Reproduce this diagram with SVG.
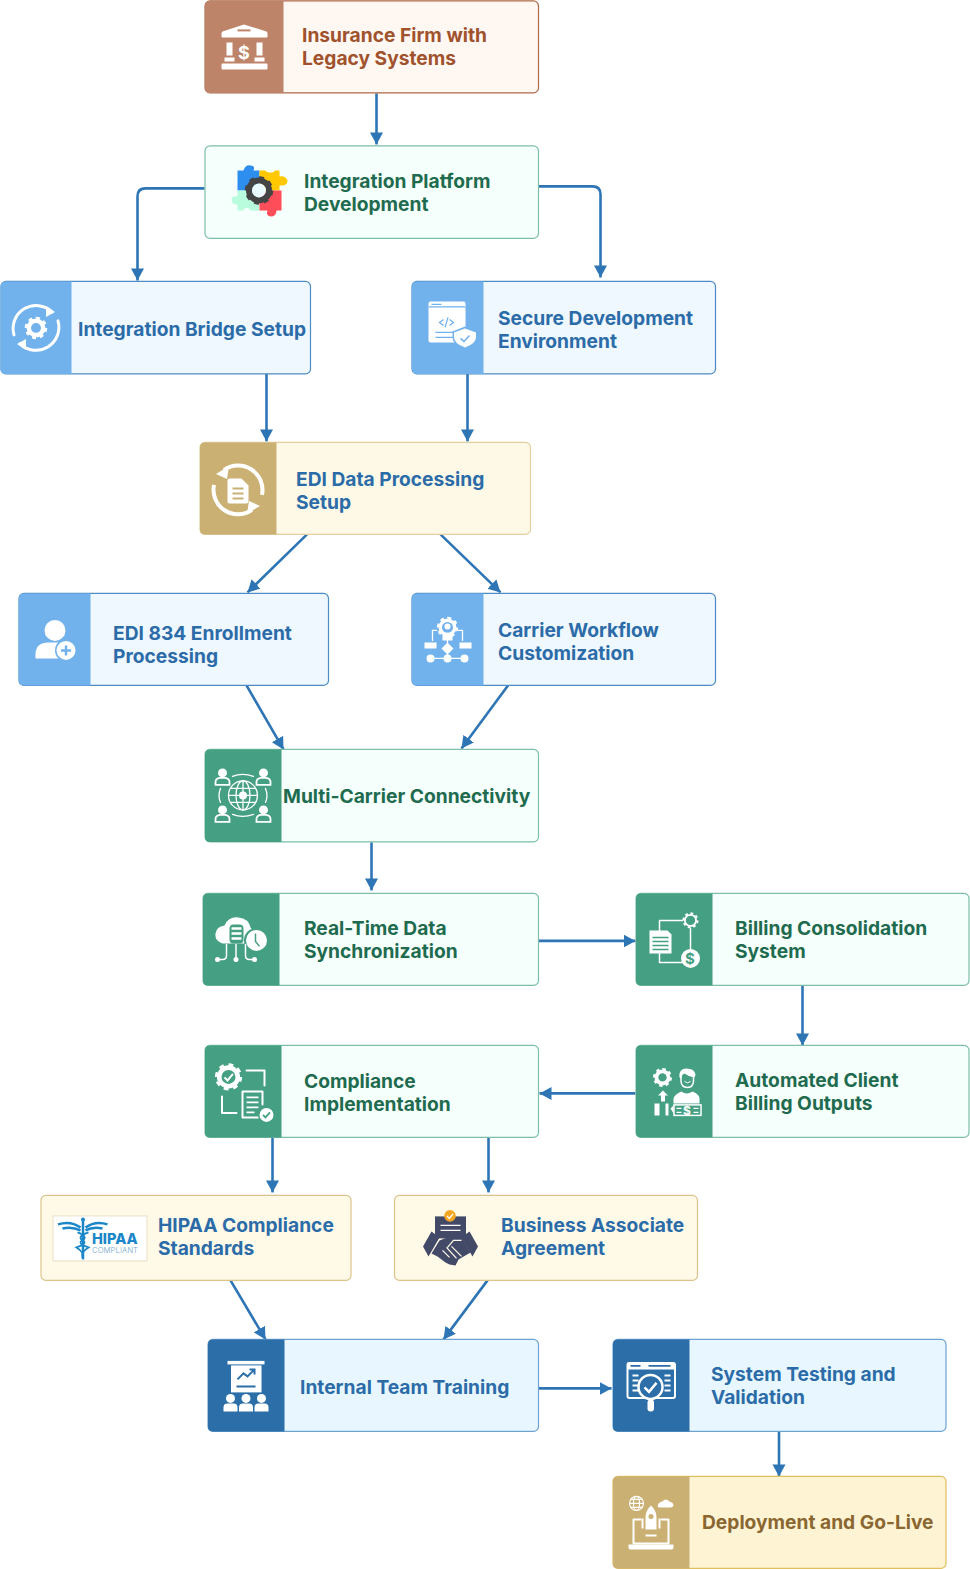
<svg xmlns="http://www.w3.org/2000/svg" width="970" height="1569" viewBox="0 0 970 1569">
<style>
text{font-family:"Inter","Liberation Sans",sans-serif;font-weight:700;font-size:19.200px;transform:translateX(-.5px)}
.box{stroke-width:1.200}
.rust{fill:#fff7f2;stroke:#ad6a48}
.mint{fill:#f5fffb;stroke:#7dbfa8}
.sky{fill:#eff7ff;stroke:#4e8cc4}
.cream{fill:#fef9e7;stroke:#e2cf9f}
.gold{fill:#fff9e8;stroke:#dcc38c}
.ice{fill:#e8f7ff;stroke:#6da2d2}
.sand{fill:#fef4d4;stroke:#e0bf5e}
.tb{fill:#2b6ca8}.tg{fill:#1f6b4f}.tr{fill:#a0522d}.tm{fill:#8a6631}
.w{fill:#fff}.wl{fill:none;stroke:#fff;stroke-width:2;stroke-linecap:round;stroke-linejoin:round}
.c{fill:none;stroke:#2e75b6;stroke-width:2.600;marker-end:url(#a)}
</style>
<defs>
<marker id="a" markerUnits="userSpaceOnUse" markerWidth="14" markerHeight="14" refX="12" refY="7" orient="auto"><path d="M0 0.500L12 7L0 13.500z" fill="#2e75b6"/></marker>
<g id="gear"><circle r="8" fill="none" stroke="#fff" stroke-width="5"/><circle r="11" fill="none" stroke="#fff" stroke-width="3" pathLength="16" stroke-dasharray="1 1"/></g>
<g id="pers"><circle cy="-5" r="4.500" class="w"/><path d="M-7 8V4Q-7 0-3 0H3Q7 0 7 4V8z" class="w"/></g>
<g id="persl"><circle cy="-6" r="4.500" class="w"/><path d="M-7 6V3Q-7 0-3-1H3Q7 0 7 3V6z" fill="none" stroke="#fff" stroke-width="1.800"/></g>
</defs>
<g transform="translate(.5 .4)">
<g id="connectors">
<path class="c" d="M376 93V144"/>
<path class="c" d="M204 188H145Q137 188 137 196V280"/>
<path class="c" d="M538 186H592Q600 186 600 194V277"/>
<path class="c" d="M266 373V441"/>
<path class="c" d="M467 373V441"/>
<path class="c" d="M306.500 534L247 592"/>
<path class="c" d="M440 534L500 592"/>
<path class="c" d="M246 685L283 749"/>
<path class="c" d="M507.500 685L461 748"/>
<path class="c" d="M371 842V890"/>
<path class="c" d="M538 940.500H635"/>
<path class="c" d="M802 985V1045"/>
<path class="c" d="M635 1093H539"/>
<path class="c" d="M272 1137V1192"/>
<path class="c" d="M488 1137V1192"/>
<path class="c" d="M230 1280L265 1339"/>
<path class="c" d="M487 1280L443 1339"/>
<path class="c" d="M538 1388H611"/>
<path class="c" d="M778.500 1431V1476"/>
</g>

<g id="n1">
<rect class="box rust" x="204.500" y="0.500" width="333.500" height="92" rx="5"/>
<path d="M209.500 0.500H283V92.500H209.500Q204.500 92.500 204.500 87.500V5.500Q204.500 0.500 209.500 0.500z" fill="#be8469"/>
<path class="w" d="M243.500 24L266 31Q267 32 267 33V36Q267 37 266 37H222Q221 37 221 36V33Q221 32 222 31z"/><rect x="237" y="29" width="13" height="2" fill="#be8469"/>
<path class="w" d="M226 42H232V55H226zM256 42H262V55H256zM224 57H234V61H224zM254 57H264V61H254zM222 63H266Q267 63 267 64V68Q267 69 266 69H222Q221 69 221 68V64Q221 63 222 63z"/>
<text x="244" y="58.500" style="font-size:18px;fill:#fff" text-anchor="middle">$</text>
<text class="tr" x="302" y="42">Insurance Firm with</text><text class="tr" x="302" y="65">Legacy Systems</text>
</g>

<g id="n2">
<rect class="box mint" x="204.500" y="145.500" width="333.500" height="92.500" rx="5"/>
<path fill="#2e8ef0" d="M237 170H243Q245 164 250 165Q255 165 253 170H259V190H237z"/>
<path fill="#ffc800" d="M259 170H265Q266 172 270 172Q274 172 274 170H279V176Q285 175 287 180Q287 186 279 185V190H259z"/>
<path fill="#b9fbdd" d="M237 190H259V210H250Q248 206 244 208L242 210H237V204Q231 204 231 199Q232 195 237 196z"/>
<path fill="#ff4d5a" d="M259 190H281V210H276Q276 216 270 216Q265 215 267 210H259z"/>
<circle cx="258.500" cy="190" r="10" fill="none" stroke="#444" stroke-width="6"/>
<circle cx="258.500" cy="190" r="13" fill="none" stroke="#444" stroke-width="2.500" pathLength="16" stroke-dasharray="1 1"/>
<circle cx="258.500" cy="190" r="7" fill="#eafaff"/>
<text class="tg" x="304" y="188">Integration Platform</text><text class="tg" x="304" y="211">Development</text>
</g>

<g id="n3">
<rect class="box sky" x="0.500" y="281" width="309.500" height="92.500" rx="5"/>
<path d="M5 281H71V373.500H5Q0 373.500 0 368.500V286Q0 281 5 281z" fill="#72b2ec"/>
<g transform="translate(35.500 327.500)">
<path class="wl" style="stroke-width:3" d="M16-16A23 23 0 0 0-22 7M-16 16A23 23 0 0 0 22-7"/>
<path class="w" d="M10-22L19-16L10-11zM-10 11L-19 16L-10 22z"/>
<g transform="scale(.9)"><use href="#gear"/></g>
</g>
<text class="tb" x="78" y="336">Integration Bridge Setup</text>
</g>

<g id="n4">
<rect class="box sky" x="411.500" y="281" width="303.500" height="92.500" rx="5"/>
<path d="M416.500 281H483V373.500H416.500Q411.500 373.500 411.500 368.500V286Q411.500 281 416.500 281z" fill="#72b2ec"/>
<rect class="w" x="428" y="301" width="37" height="41" rx="2"/>
<path d="M428 306.500H465M431 304H441M443 319L439 322L443 325M449 319L453 322L449 325M447.500 317L444.500 327M435 332H454M435 337H454" fill="none" stroke="#72b2ec" stroke-width="1.300"/>
<path d="M464.500 326L477 331V337Q477 344 464.500 349Q452 344 452 337V331z" fill="#72b2ec"/>
<path d="M464.500 328L475.500 332V337Q475.500 343 464.500 347Q453.500 343 453.500 337V332z" class="w"/>
<path d="M460 338L463.500 341L469 335" fill="none" stroke="#72b2ec" stroke-width="1.500"/>
<text class="tb" x="498" y="325">Secure Development</text><text class="tb" x="498" y="348">Environment</text>
</g>

<g id="n5">
<rect class="box cream" x="199.500" y="442" width="330.500" height="92" rx="5"/>
<path d="M204.500 442H276V534H204.500Q199.500 534 199.500 529V447Q199.500 442 204.500 442z" fill="#cbb074"/>
<g transform="translate(237.500 489.500)">
<path fill="none" stroke="#fff" stroke-width="4" d="M-14-20A24.500 24.500 0 0 1 24 5M14 20A24.500 24.500 0 0 1-24-5"/>
<path class="w" d="M-22-16L-9-24L-11-11zM22 16L9 24L11 11z"/>
</g>
<path class="w" d="M229 478H241L248 485V501Q248 503 246 503H229Q227 503 227 501V480Q227 478 229 478z"/>
<path d="M232 488H243M232 493H243M232 498H243" stroke="#cbb074" stroke-width="2"/>
<text class="tb" x="296" y="486">EDI Data Processing</text><text class="tb" x="296" y="509">Setup</text>
</g>

<g id="n6">
<rect class="box sky" x="18.500" y="593" width="309.500" height="92" rx="5"/>
<path d="M23.500 593H90V685H23.500Q18.500 685 18.500 680V598Q18.500 593 23.500 593z" fill="#72b2ec"/>
<circle class="w" cx="54.500" cy="630" r="10.500"/>
<path class="w" d="M35 658V654Q35 642 48 642H62V658z"/>
<circle cx="65.500" cy="650" r="11" fill="#72b2ec"/><circle class="w" cx="65.500" cy="650" r="9.500"/>
<path d="M60.500 650H70.500M65.500 645V655" stroke="#72b2ec" stroke-width="2.500"/>
<text class="tb" x="113" y="640">EDI 834 Enrollment</text><text class="tb" x="113" y="663">Processing</text>
</g>

<g id="n7">
<rect class="box sky" x="411.500" y="593" width="303.500" height="92" rx="5"/>
<path d="M416.500 593H483V685H416.500Q411.500 685 411.500 680V598Q411.500 593 416.500 593z" fill="#72b2ec"/>
<g transform="translate(447 627) scale(.85)"><use href="#gear"/></g>
<circle cx="447" cy="627" r="5.500" fill="#72b2ec"/><circle class="w" cx="447" cy="626" r="3"/>
<path class="w" d="M442 640V634Q447 630 452 634V640z"/>
<path class="wl" style="stroke-width:1.300" d="M432 640V630H436M462 640V630H458M447 640V657M430 658H464"/>
<path class="w" d="M424 642H436V648H424zM459 642H471V648H459zM447 642L453 648L447 654L441 648z"/>
<circle class="w" cx="430" cy="658" r="4"/><circle class="w" cx="447" cy="658" r="4"/><circle class="w" cx="464" cy="658" r="4"/>
<text class="tb" x="498" y="637">Carrier Workflow</text><text class="tb" x="498" y="660">Customization</text>
</g>

<g id="n8">
<rect class="box mint" x="204.500" y="749" width="333.500" height="92.500" rx="5"/>
<path d="M209.500 749H281V841.500H209.500Q204.500 841.500 204.500 836.500V754Q204.500 749 209.500 749z" fill="#459f82"/>
<g class="wl" style="stroke-width:1.300"><circle cx="242.500" cy="795" r="14.500"/><ellipse cx="242.500" cy="795" rx="7" ry="14.500"/><path d="M228 795H257M230 788H255M230 802H255M242.500 780.500V810"/>
<path d="M232 776Q242 772 253 776M232 814Q242 818 253 814M220 788Q217 795 220 802M265 788Q268 795 265 802"/></g>
<circle class="w" cx="242.500" cy="795" r="4"/>
<use href="#persl" x="222" y="778.500"/><use href="#persl" x="263" y="778.500"/><use href="#persl" x="222" y="815.500"/><use href="#persl" x="263" y="815.500"/>
<text class="tg" x="283" y="803">Multi-Carrier Connectivity</text>
</g>

<g id="n9">
<rect class="box mint" x="202.500" y="893" width="335.500" height="92" rx="5"/>
<path d="M207.500 893H279V985H207.500Q202.500 985 202.500 980V898Q202.500 893 207.500 893z" fill="#459f82"/>
<path class="w" d="M222 943Q214 941 215 933Q216 926 224 925Q228 916 238 917Q248 918 250 927Q256 932 252 943z"/>
<rect x="229" y="924" width="14" height="19" rx="4" fill="#459f82"/>
<path d="M231 928H241M231 933H241M231 938H241" stroke="#fff" stroke-width="2.500"/>
<circle cx="256" cy="940" r="12.500" fill="#459f82"/><circle class="w" cx="256" cy="940" r="10.500"/>
<path d="M255 933V941L259 946" fill="none" stroke="#459f82" stroke-width="1.500"/>
<path class="wl" style="stroke-width:1.500" d="M226 944V955Q226 959 222 959H217M235.500 944V958M245 944V955Q245 959 249 959H254"/>
<circle class="w" cx="217" cy="959" r="2.500"/><circle class="w" cx="235.500" cy="959" r="2.500"/><circle class="w" cx="254" cy="959" r="2.500"/>
<text class="tg" x="304" y="935">Real-Time Data</text><text class="tg" x="304" y="958">Synchronization</text>
</g>

<g id="n10">
<rect class="box mint" x="635.500" y="893" width="333" height="92" rx="5"/>
<path d="M640.500 893H712V985H640.500Q635.500 985 635.500 980V898Q635.500 893 640.500 893z" fill="#459f82"/>
<path class="wl" style="stroke-width:1.500" d="M659 932V920H682M659 953V962H682M690 928V950"/>
<path class="w" d="M649 930H667L671 934V953H649z"/>
<path d="M652 937H668M652 941H668M652 945H668M652 949H668" stroke="#459f82" stroke-width="1.500"/>
<g transform="translate(690 920) scale(.62)"><circle r="9" fill="none" stroke="#fff" stroke-width="3"/><circle r="11.500" fill="none" stroke="#fff" stroke-width="3" pathLength="16" stroke-dasharray="1 1"/></g>
<circle class="w" cx="690" cy="958" r="9.500"/>
<text x="690" y="964" style="font-size:15px;fill:#459f82" text-anchor="middle">$</text>
<text class="tg" x="735" y="935">Billing Consolidation</text><text class="tg" x="735" y="958">System</text>
</g>

<g id="n11">
<rect class="box mint" x="635.500" y="1045" width="333" height="92" rx="5"/>
<path d="M640.500 1045H712V1137H640.500Q635.500 1137 635.500 1132V1050Q635.500 1045 640.500 1045z" fill="#459f82"/>
<g transform="translate(662 1077) scale(.76)"><use href="#gear"/></g>
<path fill="none" stroke="#fff" stroke-width="1.500" d="M680.500 1076V1081Q681 1087 687 1087Q692.500 1087 693 1081V1076"/>
<path class="w" d="M679 1077Q678 1068 686 1068Q694 1068 695 1074Q695 1076 693.500 1077Q688 1076 684 1073Q681 1074 681 1078z"/>
<path d="M684 1081Q687 1084 690 1081" fill="none" stroke="#fff" stroke-width="1"/>
<path class="w" d="M673 1103V1098Q674 1094 681 1091Q686 1095 692 1091Q699 1094 699 1098V1103z"/>
<path class="w" d="M662.500 1090L667.500 1095H664.500V1101H660.500V1095H657.500z"/>
<path class="w" d="M654 1103H659V1115H654zM665 1103H668V1115H665zM670 1108L673 1105V1113z"/>
<rect x="673.500" y="1104.500" width="27" height="10.500" fill="none" stroke="#fff" stroke-width="1.500"/>
<path d="M676 1108H681M676 1112H681M693 1108H698M693 1112H698" stroke="#fff" stroke-width="1.200"/>
<text x="687" y="1114.500" style="font-size:12px;fill:#fff" text-anchor="middle">$</text>
<text class="tg" x="735" y="1087">Automated Client</text><text class="tg" x="735" y="1110">Billing Outputs</text>
</g>

<g id="n12">
<rect class="box mint" x="204.500" y="1045" width="333.500" height="92" rx="5"/>
<path d="M209.500 1045H281V1137H209.500Q204.500 1137 204.500 1132V1050Q204.500 1045 209.500 1045z" fill="#459f82"/>
<g transform="translate(228 1076.500) scale(1.050)"><circle r="11" class="w"/><circle r="11.500" fill="none" stroke="#fff" stroke-width="3" pathLength="16" stroke-dasharray="1 1"/></g>
<circle cx="228" cy="1076.500" r="7" fill="#459f82"/>
<path d="M224 1077L227 1080L232.500 1073.500" fill="none" stroke="#fff" stroke-width="2"/>
<path class="wl" d="M246 1070H264V1085M221.500 1096V1112.500H236"/>
<path class="wl" d="M262 1104V1091H242V1117H258"/>
<path d="M246 1097H258M246 1102H258M246 1107H258M246 1112H254" stroke="#fff" stroke-width="1.800"/>
<circle cx="266" cy="1114.500" r="8.500" fill="#459f82"/><circle class="w" cx="266" cy="1114.500" r="7"/><path d="M262.500 1114.500L265 1117L269.500 1112" fill="none" stroke="#459f82" stroke-width="1.800"/>
<text class="tg" x="304" y="1088">Compliance</text><text class="tg" x="304" y="1111">Implementation</text>
</g>

<g id="n13">
<rect class="box gold" x="40.500" y="1195" width="310" height="85" rx="5"/>
<rect x="52.500" y="1215.500" width="94" height="45" fill="#fff" stroke="#eadfc4"/>
<g fill="none" stroke="#1b87c9">
<path d="M82.500 1219V1259" stroke-width="2.500"/>
<path d="M57.500 1224Q70 1220 80 1227M107 1224Q95 1220 85 1227M62 1228Q72 1226 80 1230M102 1228Q92 1226 85 1230" stroke-width="2.500"/>
<path d="M77 1232Q88 1236 82 1240Q76 1243 88 1247Q80 1252 82 1257M88 1232Q76 1236 82 1240Q88 1243 76 1247Q84 1252 82 1257" stroke-width="1.800"/>
</g>
<circle cx="82.500" cy="1219" r="2" fill="#1b87c9"/>
<text x="92" y="1243.500" style="font-size:14.500px;font-weight:800;fill:#1b87c9">HIPAA</text>
<text x="92" y="1253" style="font-size:7.800px;font-weight:300;fill:#74a9c9">COMPLIANT</text>
<text class="tb" x="158" y="1232">HIPAA Compliance</text><text class="tb" x="158" y="1255">Standards</text>
</g>

<g id="n14">
<rect class="box gold" x="394" y="1195" width="303" height="85" rx="5"/>
<rect x="434.500" y="1216" width="31" height="22" fill="#434a68"/>
<path d="M440 1225H460M440 1230H460" stroke="#fff" stroke-width="1.200"/>
<circle cx="449.500" cy="1215.500" r="5.800" fill="#f5a623"/>
<path d="M446.500 1215.500L448.800 1218L452.500 1213.500" fill="none" stroke="#fff" stroke-width="1.300"/>
<path d="M431 1231L439 1237L428 1256L422.500 1246zM469 1231L461 1237L472 1256L477.500 1246z" fill="#434a68"/>
<path d="M439 1240L449 1236H461L470 1252L458 1259L455 1265L449 1264L445 1262L441 1259L437 1256L431 1253z" fill="#434a68"/>
<path d="M447 1247L453 1240H461M442 1250L449 1257M446 1247L456 1258M451 1246L461 1256" fill="none" stroke="#fef9e7" stroke-width="1.300"/>
<text class="tb" x="501" y="1232">Business Associate</text><text class="tb" x="501" y="1255">Agreement</text>
</g>

<g id="n15">
<rect class="box ice" x="207.500" y="1339" width="330.500" height="92" rx="5"/>
<path d="M212.500 1339H284V1431H212.500Q207.500 1431 207.500 1426V1344Q207.500 1339 212.500 1339z" fill="#2c6ea8"/>
<rect class="w" x="227" y="1360.500" width="37" height="3.500"/>
<rect class="w" x="230.500" y="1365" width="30.500" height="27"/>
<path d="M237 1379L243 1373L247 1376L254 1369M249 1369H254V1374M236 1386H255" fill="none" stroke="#2c6ea8" stroke-width="2"/>
<g transform="translate(0 1403)"><use href="#pers" x="230"/><use href="#pers" x="245.500"/><use href="#pers" x="261"/></g>
<text class="tb" x="300" y="1394">Internal Team Training</text>
</g>

<g id="n16">
<rect class="box ice" x="612.500" y="1339" width="333" height="92" rx="5"/>
<path d="M617.500 1339H689V1431H617.500Q612.500 1431 612.500 1426V1344Q612.500 1339 617.500 1339z" fill="#2c6ea8"/>
<rect x="627" y="1362.500" width="47.500" height="35" rx="2" fill="none" stroke="#fff" stroke-width="2"/>
<path class="w" d="M627 1362H674V1369H627z"/>
<path d="M630 1365.500H640M648 1365.500H670" stroke="#2c6ea8" stroke-width="1.600"/>
<path d="M632 1375H638M632 1380H638M632 1385H638M632 1390H638M664 1375H670M664 1380H670M664 1385H670M664 1390H670" stroke="#fff" stroke-width="2"/>
<circle cx="650" cy="1386.500" r="12" fill="#2c6ea8" stroke="#fff" stroke-width="2.500"/>
<path d="M644 1387L648.500 1391.500L656 1382.500" fill="none" stroke="#fff" stroke-width="2.500"/>
<rect class="w" x="647" y="1399" width="6.500" height="12" rx="3"/>
<text class="tb" x="711" y="1381">System Testing and</text><text class="tb" x="711" y="1404">Validation</text>
</g>

<g id="n17">
<rect class="box sand" x="612.500" y="1476" width="333" height="92" rx="5"/>
<path d="M617.500 1476H689V1568H617.500Q612.500 1568 612.500 1563V1481Q612.500 1476 617.500 1476z" fill="#cbb074"/>
<g fill="none" stroke="#fff" stroke-width="1.200"><circle cx="636" cy="1503" r="7"/><ellipse cx="636" cy="1503" rx="3" ry="7"/><path d="M629 1503H643M630 1499H642M630 1507H642"/></g>
<path class="w" d="M659 1507Q656 1507 658 1503Q660 1501 662 1501Q665 1497 669 1501Q673 1502 673 1505Q672 1507 670 1507z"/>
<path class="wl" d="M640 1519H633V1543H668V1519H661"/>
<path class="w" d="M628 1544H673V1547Q673 1549 671 1549H630Q628 1549 628 1547z"/>
<path class="w" d="M650.500 1505Q656 1510 656 1517V1529H645V1517Q645 1510 650.500 1505z"/>
<circle cx="650.500" cy="1516" r="2.500" fill="#cbb074"/>
<path class="w" d="M645 1534H656V1536H645zM641 1518H643V1528H641zM658 1518H660V1528H658z"/>
<text class="tm" x="702" y="1529">Deployment and Go-Live</text>
</g>
</g>
</svg>
